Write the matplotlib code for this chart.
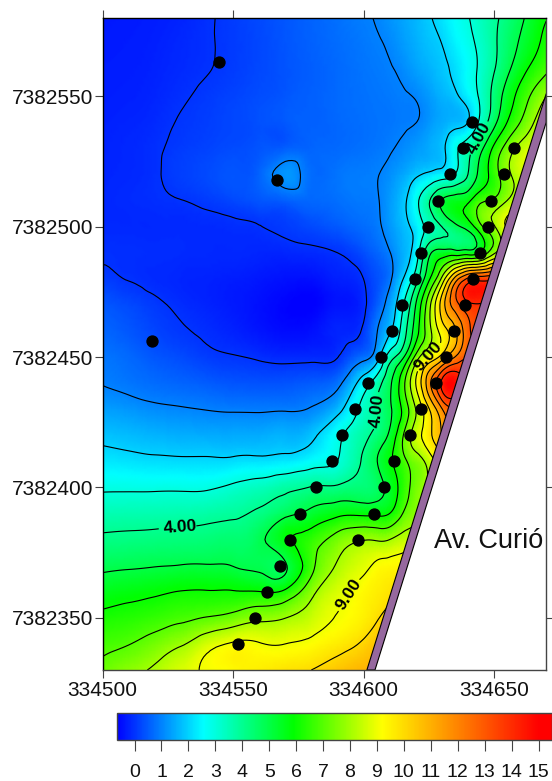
"""
Contour map beside Av. Curio: gridded field, isolines every 1 unit, sample points.
"""
import numpy as np
import matplotlib
matplotlib.use("Agg")
import matplotlib.pyplot as plt
import matplotlib.tri as mtri
from matplotlib.cm import ScalarMappable
from matplotlib.colors import LinearSegmentedColormap, Normalize
from matplotlib.ticker import ScalarFormatter

plt.rcParams['font.family'] = ['Liberation Sans', 'DejaVu Sans']

# grid nodes, easting / northing
east = [334500, 334510, 334520, 334530, 334540, 334550, 334560, 334570, 334580, 334590,
        334600, 334605, 334610, 334615, 334620, 334625, 334630, 334635, 334640, 334645,
        334650, 334655, 334660, 334665, 334670]
north = [7382580 - 10 * i for i in range(26)]

# field values, one row per northing (north to south)
field = [
    [-.35, -.32, -.28, -.2, -.05, .11, .28, .44, .6, .77, .95, 1.03, 1.22, 1.43, 1.65, 1.93, 2.25, 2.6, 2.95, 3.4, 3.83, 4.3, 4.8, 5.45, 5.95],
    [-.32, -.3, -.25, -.15, -.04, .1, .25, .42, .58, .72, .87, .95, 1.07, 1.3, 1.55, 1.78, 2.0, 2.4, 2.75, 3.25, 3.85, 4.5, 5.1, 5.7, 6.3],
    [-.3, -.28, -.22, -.12, -.02, .12, .26, .4, .54, .68, .82, .88, .96, 1.1, 1.35, 1.58, 1.83, 2.15, 2.62, 3.2, 3.95, 4.8, 5.6, 6.3, 6.85],
    [-.28, -.25, -.18, -.05, .08, .2, .32, .44, .56, .68, .78, .83, .88, .95, 1.04, 1.3, 1.6, 1.85, 2.4, 3.2, 4.3, 5.4, 6.35, 7.2, 8.0],
    [-.25, -.2, -.12, .03, .13, .24, .36, .47, .57, .66, .75, .8, .84, .92, .99, 1.25, 1.5, 1.7, 2.0, 3.3, 4.7, 6.0, 7.0, 7.95, 8.8],
    [-.22, -.16, -.06, .1, .2, .3, .42, .55, .62, .68, .78, .85, .95, 1.1, 1.3, 1.5, 1.8, 2.75, 3.6, 4.8, 6.2, 7.4, 8.3, 8.8, 9.2],
    [-.2, -.15, -.05, .15, .28, .42, .6, 1.25, .72, .82, .92, .98, 1.15, 1.45, 1.85, 2.15, 2.45, 3.0, 4.0, 5.35, 6.5, 7.7, 8.5, 9.0, 9.3],
    [-.17, -.12, -.07, -.01, .1, .25, .42, .55, .65, .75, .88, .95, 1.3, 1.8, 2.7, 3.9, 5.05, 5.5, 5.8, 6.8, 7.2, 8.0, 8.6, 9.0, 9.4],
    [-.14, -.14, -.14, -.13, -.12, -.08, -.02, .1, .28, .48, .72, .88, 1.25, 1.7, 2.3, 3.3, 4.0, 4.7, 5.4, 6.8, 7.9, 9.1, 9.5, 9.8, 10.0],
    [-.05, -.07, -.09, -.11, -.14, -.15, -.18, -.17, -.12, .0, .35, .62, .97, 1.55, 2.5, 4.7, 5.4, 5.45, 5.5, 6.1, 7.8, 9.0, 10.0, 10.5, 11.0],
    [.12, -.02, -.12, -.18, -.22, -.28, -.35, -.43, -.45, -.25, .0, .35, .85, 1.95, 3.5, 5.8, 8.2, 11.3, 13.2, 13.6, 13.6, 13.6, 13.6, 13.6, 13.6],
    [.45, .28, .08, -.08, -.2, -.32, -.45, -.6, -.65, -.4, -.12, .5, 1.35, 2.85, 5.0, 7.6, 10.4, 12.5, 13.75, 13.9, 13.9, 13.9, 13.9, 13.9, 13.9],
    [.62, .45, .22, .05, -.08, -.22, -.38, -.5, -.45, -.2, .1, .95, 1.85, 3.4, 5.5, 7.6, 9.4, 10.8, 12.7, 13.5, 13.5, 13.5, 13.5, 13.5, 13.5],
    [.85, .68, .45, .3, .12, .03, -.06, -.14, -.12, -.02, .75, 1.55, 3.5, 4.8, 7.3, 9.1, 10.4, 12.0, 13.0, 13.0, 13.0, 13.0, 13.0, 13.0, 13.0],
    [.98, .85, .72, .62, .52, .42, .38, .4, .5, .8, 2.5, 3.5, 4.8, 6.6, 9.0, 11.6, 14.2, 14.8, 14.0, 14.0, 14.0, 14.0, 14.0, 14.0, 14.0],
    [1.38, 1.25, 1.12, 1.05, .98, .93, .92, .94, 1.05, 1.7, 3.3, 3.95, 4.85, 6.15, 8.0, 9.9, 11.9, 13.0, 13.0, 13.0, 13.0, 13.0, 13.0, 13.0, 13.0],
    [1.82, 1.72, 1.62, 1.55, 1.52, 1.5, 1.52, 1.6, 1.82, 2.75, 3.75, 4.3, 5.2, 6.9, 8.5, 9.7, 11.0, 12.0, 12.0, 12.0, 12.0, 12.0, 12.0, 12.0, 12.0],
    [2.3, 2.22, 2.15, 2.12, 2.12, 2.15, 2.2, 2.3, 2.6, 3.0, 4.15, 4.95, 5.8, 6.7, 7.5, 8.4, 9.5, 10.0, 10.0, 10.0, 10.0, 10.0, 10.0, 10.0, 10.0],
    [2.88, 2.88, 2.88, 2.88, 2.9, 3.15, 3.4, 3.75, 4.05, 4.15, 4.35, 4.6, 5.35, 6.4, 7.4, 8.2, 9.0, 9.5, 9.5, 9.5, 9.5, 9.5, 9.5, 9.5, 9.5],
    [3.55, 3.58, 3.6, 3.65, 3.72, 3.85, 4.15, 4.75, 5.25, 5.75, 5.8, 5.8, 6.0, 7.0, 7.7, 8.2, 8.5, 8.5, 8.5, 8.5, 8.5, 8.5, 8.5, 8.5, 8.5],
    [4.15, 4.2, 4.25, 4.3, 4.35, 4.45, 4.8, 5.75, 6.5, 7.4, 7.95, 7.92, 8.0, 8.4, 8.6, 8.8, 8.8, 8.8, 8.8, 8.8, 8.8, 8.8, 8.8, 8.8, 8.8],
    [4.8, 4.88, 4.96, 5.03, 5.05, 4.98, 4.85, 4.9, 6.7, 8.1, 8.8, 9.15, 9.3, 9.4, 9.5, 9.5, 9.5, 9.5, 9.5, 9.5, 9.5, 9.5, 9.5, 9.5, 9.5],
    [5.55, 5.7, 5.85, 6.03, 6.05, 6.05, 6.02, 6.2, 7.7, 8.7, 9.3, 9.55, 9.8, 10.0, 10.0, 10.0, 10.0, 10.0, 10.0, 10.0, 10.0, 10.0, 10.0, 10.0, 10.0],
    [6.2, 6.35, 6.55, 6.8, 7.05, 7.35, 7.75, 7.98, 8.5, 9.05, 9.5, 9.9, 10.3, 10.5, 10.5, 10.5, 10.5, 10.5, 10.5, 10.5, 10.5, 10.5, 10.5, 10.5, 10.5],
    [6.75, 6.97, 7.4, 7.9, 8.65, 9.1, 9.05, 9.0, 9.2, 9.6, 10.15, 10.6, 11.0, 11.0, 11.0, 11.0, 11.0, 11.0, 11.0, 11.0, 11.0, 11.0, 11.0, 11.0, 11.0],
    [7.25, 7.7, 8.15, 8.7, 9.1, 9.3, 9.55, 9.8, 10.0, 10.5, 10.9, 11.0, 11.1, 11.2, 11.2, 11.2, 11.2, 11.2, 11.2, 11.2, 11.2, 11.2, 11.2, 11.2, 11.2],
]

# sampling points
pts_e = [334544.6, 334566.9, 334519,
         334641.6, 334638, 334633, 334628.5, 334624.7, 334622, 334619.7, 334614.7, 334611, 334606.7,
         334601.7, 334596.7, 334591.7, 334588, 334581.8, 334575.7, 334571.8, 334568, 334563, 334558.4, 334552,
         334657.7, 334653.8, 334648.9, 334647.7, 334644.6, 334642, 334638.9, 334634.7, 334631.6,
         334627.8, 334622, 334617.8, 334611.7, 334607.8, 334604, 334597.9]
pts_n = [7382563, 7382518, 7382456,
         7382540, 7382530, 7382520, 7382510, 7382500, 7382490, 7382480, 7382470, 7382460, 7382450,
         7382440, 7382430, 7382420, 7382410, 7382400, 7382390, 7382380, 7382370, 7382360, 7382350, 7382340,
         7382530, 7382520, 7382510, 7382500, 7382490, 7382480, 7382470, 7382460, 7382450,
         7382440, 7382430, 7382420, 7382410, 7382400, 7382390, 7382380]

# road outline
road_e = [334601.3, 334604.4, 334670, 334670]
road_n = [7382330, 7382330, 7382540, 7382551]
blank_e = [334604.4, 334670, 334670]
blank_n = [7382330, 7382330, 7382540]

plain_levels = [0, 1, 2, 3, 5, 6, 7, 8, 10, 11, 12, 13, 14]
label_levels = [4, 9]
label_spots = [(334529.7, 7382384.8), (334644.6, 7382533.8), (334606.3, 7382429.6),
               (334624.7, 7382450.7), (334595.6, 7382358.4)]
cbar_ticks = list(range(0, 16))

VMIN, VMAX = -0.65, 15.5
stops = [(0.0, '#0000ff'), ((2.55 - VMIN) / (VMAX - VMIN), '#00ffff'),
         ((5.9 - VMIN) / (VMAX - VMIN), '#00ff00'), ((9.2 - VMIN) / (VMAX - VMIN), '#ffff00'),
         ((15.0 - VMIN) / (VMAX - VMIN), '#ff0000'), (1.0, '#ff0000')]
cmap = LinearSegmentedColormap.from_list('surfer_rainbow', stops, N=512)
norm = Normalize(VMIN, VMAX)

EE, NN = np.meshgrid(east, north)
tri = mtri.Triangulation(EE.ravel() - 334500.0, NN.ravel() - 7382330.0)
refiner = mtri.UniformTriRefiner(tri)
fine, zfine = refiner.refine_field(np.array(field).ravel(), subdiv=3)
fine = mtri.Triangulation(fine.x + 334500.0, fine.y + 7382330.0, fine.triangles)

W, H = 552, 781
fig = plt.figure(figsize=(W / 100, H / 100), dpi=100)
ax = fig.add_axes([102.5 / W, (H - 670) / H, 443.7 / W, 652 / H])

ax.tripcolor(fine, zfine, shading='gouraud', cmap=cmap, norm=norm, zorder=1)
ax.tricontour(fine, zfine, levels=plain_levels, colors='black', linewidths=0.8, zorder=2)
cs = ax.tricontour(fine, zfine, levels=label_levels, colors='black', linewidths=0.8, zorder=2)

ax.set_xlim(334500, 334670)
ax.set_ylim(7382330, 7382580)
ax.fill(blank_e, blank_n, color='white', zorder=3)
ax.fill(road_e, road_n, facecolor='#96689E', edgecolor='black', linewidth=0.8, zorder=4)
ax.scatter(pts_e, pts_n, s=62, color='black', zorder=5, clip_on=False)

labels = ax.clabel(cs, fmt='%.2f', fontsize=12.5, manual=label_spots, inline=True, inline_spacing=2)
for t in labels:
    t.set_fontweight('bold')
    t.set_zorder(6)

ax.text(334627, 7382376.7, 'Av. Curió', fontsize=19.5, color='#111111', va='baseline', zorder=6)

ax.set_xticks([334500, 334550, 334600, 334650])
ax.set_yticks([7382350, 7382400, 7382450, 7382500, 7382550])
for axis in (ax.xaxis, ax.yaxis):
    fmt = ScalarFormatter(useOffset=False)
    fmt.set_scientific(False)
    axis.set_major_formatter(fmt)
ax.tick_params(top=True, right=True, direction='out', length=5.8, width=0.8, color='#444444',
               labelsize=15, labelcolor='#111111')
ax.tick_params(axis='x', pad=2)
ax.tick_params(axis='y', pad=1)
for side, spine in ax.spines.items():
    spine.set_color('#444444' if side in ('right', 'bottom') else 'black')
    spine.set_linewidth(1.0)
    spine.set_zorder(7)

cax = fig.add_axes([117 / W, (H - 740) / H, 435 / W, 27 / H])
cb = fig.colorbar(ScalarMappable(norm=norm, cmap=cmap), cax=cax, orientation='horizontal')
cb.set_ticks(cbar_ticks)
cb.ax.tick_params(length=8, width=0.8, color='#444444', labelsize=14, pad=9, labelcolor='#111111')
cb.outline.set_edgecolor('#444444')
cb.outline.set_linewidth(1.0)

fig.savefig('out.png', dpi=100)
